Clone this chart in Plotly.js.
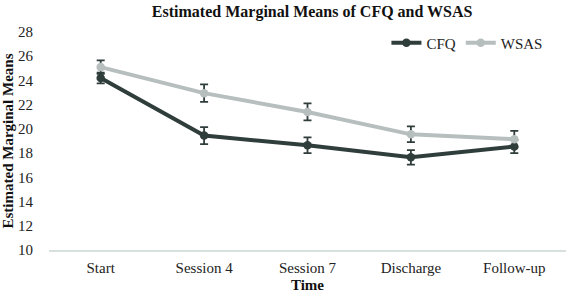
<!DOCTYPE html>
<html>
<head>
<meta charset="utf-8">
<script src="https://cdn.plot.ly/plotly-3.0.1.min.js"></script>
<style>html,body{margin:0;padding:0;background:#fff;}#chart{width:566px;height:297px;}</style>
</head>
<body>
<div id="chart"></div>
<script>
const categories = ["Start", "Session 4", "Session 7", "Discharge", "Follow-up"];
const cfqMeans = [24.2, 19.45, 18.65, 17.65, 18.55];
const cfqErrors = [0.45, 0.7, 0.65, 0.6, 0.55];
const wsasMeans = [25.1, 22.95, 21.4, 19.55, 19.15];
const wsasErrors = [0.55, 0.72, 0.7, 0.65, 0.68];
const yTicks = [10, 12, 14, 16, 18, 20, 22, 24, 26, 28];

const cfqColor = "#2f3d3b";
const wsasColor = "#b7bfbe";
const errColor = "#2f3d3b";
const serif = "Liberation Serif, Times New Roman, serif";

const traces = [
  {
    x: categories, y: cfqMeans, name: "CFQ", type: "scatter", mode: "lines+markers",
    line: {color: cfqColor, width: 4},
    marker: {color: cfqColor, size: 8.5},
    error_y: {type: "data", array: cfqErrors, visible: true, color: errColor, thickness: 1.8, width: 4}
  },
  {
    x: categories, y: wsasMeans, name: "WSAS", type: "scatter", mode: "lines+markers",
    line: {color: wsasColor, width: 4},
    marker: {color: wsasColor, size: 8.5},
    error_y: {type: "data", array: wsasErrors, visible: true, color: errColor, thickness: 1.8, width: 4}
  }
];

const layout = {
  width: 566, height: 297,
  margin: {l: 49, r: 0, t: 32, b: 47},
  paper_bgcolor: "#ffffff", plot_bgcolor: "#ffffff",
  font: {family: serif, size: 15, color: "#222222"},
  title: {
    text: "<b>Estimated Marginal Means of CFQ and WSAS</b>",
    font: {family: serif, size: 16, color: "#111111"},
    x: 0.509, xref: "paper", xanchor: "center",
    y: 1 - 11/297, yref: "container", yanchor: "middle"
  },
  showlegend: true,
  legend: {
    orientation: "h", x: 0.966, xanchor: "right", y: 0.95, yanchor: "middle",
    font: {family: serif, size: 15, color: "#222222"},
    bgcolor: "rgba(0,0,0,0)", traceorder: "normal"
  },
  xaxis: {
    type: "category",
    range: [-0.5, 4.5],
    showgrid: false, zeroline: false,
    showline: true, linecolor: "#d8dfdf", linewidth: 1.5,
    ticks: "outside", ticklen: 3, tickcolor: "rgba(0,0,0,0)",
    tickfont: {family: serif, size: 15, color: "#222222"},
    title: {text: "<b>Time</b>", font: {family: serif, size: 15, color: "#111111"}, standoff: 5},
    fixedrange: true
  },
  yaxis: {
    range: [10, 28],
    tickvals: yTicks, ticktext: yTicks.map(String),
    showgrid: false, zeroline: false, showline: false,
    ticks: "outside", ticklen: 12, tickcolor: "rgba(0,0,0,0)",
    tickfont: {family: serif, size: 15, color: "#222222"},
    title: {text: "<b>Estimated Marginal Means</b>", font: {family: serif, size: 15, color: "#111111"}, standoff: 4},
    fixedrange: true
  }
};

Plotly.newPlot("chart", traces, layout, {displayModeBar: false, staticPlot: true});
</script>
</body>
</html>
